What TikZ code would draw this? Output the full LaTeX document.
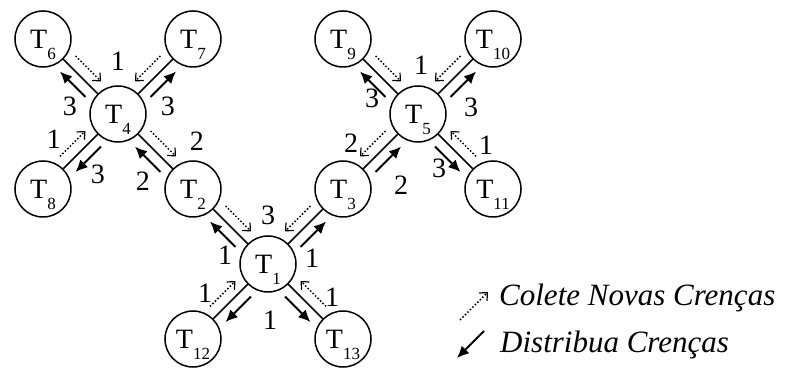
\documentclass[tikz,border=0pt]{standalone}
\usepackage{fontspec}
\setmainfont{Liberation Serif}
\usetikzlibrary{arrows.meta,calc}
\tikzset{
    task/.style =    {circle,
                     fill=white,
                     draw=black,
                     text=black,
                     line width=1.5pt,
                     minimum size=56pt,
                     inner sep=0pt,
                     text depth=0pt,
                     font=\rmfamily\fontsize{28}{28}\selectfont},
    num/.style =     {inner sep=0pt,
                     font=\rmfamily\fontsize{28}{28}\selectfont},
    legend/.style =  {anchor=base west,
                     inner sep=0pt,
                     font=\rmfamily\fontsize{31}{31}\selectfont\itshape},
    link/.style =    {line width=1.5pt},
    collect/.style = {dotted,
                     line width=1.5pt,
                     -{Straight Barb[length=6pt,width=11pt,line width=1.2pt]}},
    deliver/.style = {line width=2pt,
                     -{Latex[length=12pt,width=11pt]}}}
\newcommand{\tsub}[1]{T\raisebox{-11pt}{\fontsize{17}{17}\selectfont #1}}
\newcommand{\duo}[3]{%
    \coordinate (a) at ($(#1)!.5!(#2)!18pt!(#1)$);
    \coordinate (b) at ($(#1)!.5!(#2)!18pt!(#2)$);
    \draw[collect] ($(a)!11pt!#3:(#2)$) -- ($(b)!11pt!#3:(#2)$);
    \draw[deliver] ($(b)!-11pt!#3:(#2)$) -- ($(a)!-11pt!#3:(#2)$);}
\begin{document}
\begin{tikzpicture}[x=1pt, y=1pt, node distance=106.07pt]
    \useasboundingbox (0,0) rectangle (785,369);
    \node[task]     (T1)  at (268,105)          {\tsub{1}};
    \node[task]     (T2)  [above left of=T1]    {\tsub{2}};
    \node[task]     (T3)  [above right of=T1]   {\tsub{3}};
    \node[task]     (T12) [below left of=T1]    {\tsub{12}};
    \node[task]     (T13) [below right of=T1]   {\tsub{13}};
    \node[task]     (T4)  [above left of=T2]    {\tsub{4}};
    \node[task]     (T5)  [above right of=T3]   {\tsub{5}};
    \node[task]     (T6)  [above left of=T4]    {\tsub{6}};
    \node[task]     (T7)  [above right of=T4]   {\tsub{7}};
    \node[task]     (T8)  [below left of=T4]    {\tsub{8}};
    \node[task]     (T9)  [above left of=T5]    {\tsub{9}};
    \node[task]     (T10) [above right of=T5]   {\tsub{10}};
    \node[task]     (T11) [below right of=T5]   {\tsub{11}};
    \path [link]    (T1) edge (T2)  (T1) edge (T3)  (T1) edge (T12) (T1) edge (T13)
                    (T2) edge (T4)  (T3) edge (T5)
                    (T4) edge (T6)  (T4) edge (T7)  (T4) edge (T8)
                    (T5) edge (T9)  (T5) edge (T10) (T5) edge (T11);
    \foreach \c/\p/\s in {T6/T4/90, T7/T4/-90, T8/T4/90, T4/T2/90,
                          T2/T1/90, T3/T1/-90, T12/T1/90, T13/T1/-90,
                          T5/T3/-90, T9/T5/90, T10/T5/-90, T11/T5/-90}
        {\duo{\c}{\p}{\s}}
    % weights round T4
    \node[num] (n41) at ([shift={(0,53)}]T4)    {1};
    \node[num] (n42) at ([shift={(-48,8)}]T4)   {3};
    \node[num] (n43) at ([shift={(50,8)}]T4)    {3};
    \node[num] (n44) at ([shift={(-64,-25)}]T4) {1};
    \node[num] (n45) at ([shift={(-20,-60)}]T4) {3};
    \node[num] (n46) at ([shift={(79,-27)}]T4)  {2};
    \node[num] (n47) at ([shift={(25,-67)}]T4)  {2};
    % weights round T1
    \node[num] (n11) at ([shift={(0,49)}]T1)    {3};
    \node[num] (n12) at ([shift={(-43,9)}]T1)   {1};
    \node[num] (n13) at ([shift={(44,6)}]T1)    {1};
    \node[num] (n14) at ([shift={(-63,-29)}]T1) {1};
    \node[num] (n15) at ([shift={(2,-56)}]T1)   {1};
    \node[num] (n16) at ([shift={(64,-33)}]T1)  {1};
    % weights round T5
    \node[num] (n51) at ([shift={(3,49)}]T5)    {1};
    \node[num] (n52) at ([shift={(-46,16)}]T5)  {3};
    \node[num] (n53) at ([shift={(53,7)}]T5)    {3};
    \node[num] (n54) at ([shift={(-67,-29)}]T5) {2};
    \node[num] (n55) at ([shift={(-17,-71)}]T5) {2};
    \node[num] (n56) at ([shift={(68,-31)}]T5)  {1};
    \node[num] (n57) at ([shift={(21,-54)}]T5)  {3};
    % legend
    \coordinate (c0) at (460,49);
    \coordinate (c1) at (488,77);
    \coordinate (d0) at (484,38);
    \coordinate (d1) at (457,11);
    \draw[collect] (c0) -- (c1);
    \draw[deliver] (d0) -- (d1);
    \node[legend] (lc) at (499,63) {Colete Novas Crenças};
    \node[legend] (ld) at (500,16) {Distribua Crenças};
\end{tikzpicture}
\end{document}
